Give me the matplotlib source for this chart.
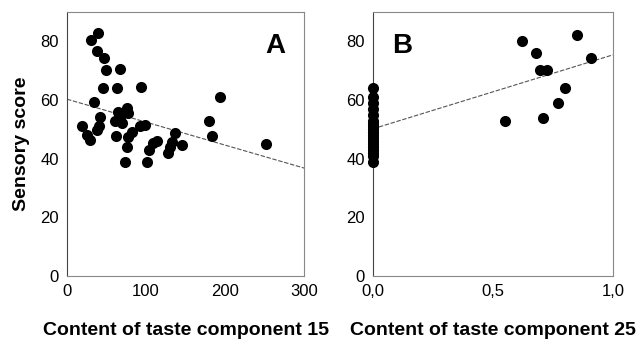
import numpy as np
import matplotlib
matplotlib.use('Agg')
import matplotlib.pyplot as plt

plt.rcParams['font.family'] = ['Liberation Sans', 'DejaVu Sans']

#----------- PANEL A: taste component 15 -----------#
comp15 = [31, 39.6, 38, 47, 49, 67, 46, 63, 93, 193, 34.6, 41.8, 18.6, 25, 29,
          37.6, 41, 65, 75.6, 60.8, 69, 77.6, 67, 62, 77.6, 82, 92.4, 98.7,
          75.6, 74, 101.7, 104, 109, 114, 128, 130, 132.5, 136.7, 145, 180,
          184, 252]
score15 = [80.5, 82.8, 76.6, 74.3, 70.3, 70.5, 64, 64, 64.3, 61.2, 59.3, 54.2,
           51.2, 48, 46.4, 49.8, 51, 56, 57.2, 52.7, 52.1, 55.5, 53.8, 47.8,
           47.5, 49.2, 51, 51.5, 44.1, 38.8, 38.8, 43, 45.3, 46.2, 41.9, 44.1,
           45.8, 48.7, 44.7, 52.7, 47.8, 45]
fitA = [60.3, 36.8]   # y at x=0 and x=300

#----------- PANEL B: taste component 25 -----------#
comp25 = [0.62, 0.68, 0.85, 0.91, 0.696, 0.724, 0.80, 0.77, 0.71, 0.55]
score25 = [80.2, 76.2, 82.1, 74.3, 70.3, 70.1, 64, 58.9, 54, 53]
zero_scores = [64, 61, 59, 57, 55, 53, 52, 51, 50, 49, 48, 47, 46, 45, 44,
               43, 42, 41, 39]
fitB = [50.2, 75.4]   # y at x=0 and x=1

fig = plt.figure(figsize=(6.41, 3.45), dpi=100)
axA = fig.add_axes([0.1045, 0.2, 0.370, 0.765])
axB = fig.add_axes([0.582, 0.2, 0.374, 0.765])

def style(ax):
    for s in ax.spines.values():
        s.set_color('#888888')
        s.set_linewidth(0.8)
    ax.spines['left'].set_color('#444444')
    ax.tick_params(length=0, labelsize=12, pad=6)
    ax.set_ylim(0, 90)
    ax.set_yticks([0, 20, 40, 60, 80])

mk = dict(s=64, color='black', zorder=3, linewidths=0, clip_on=False)

axA.scatter(comp15, score15, **mk)
axA.plot([0, 300], fitA, color='#555555', lw=0.8, ls=(0, (4, 1.5)))
axA.set_xlim(0, 300)
axA.set_xticks([0, 100, 200, 300])
style(axA)
axA.text(0.88, 0.87, 'A', transform=axA.transAxes, fontsize=20,
         fontweight='bold', ha='center', va='center')
axA.set_ylabel('Sensory score', fontsize=14, fontweight='bold', labelpad=7)
axA.set_xlabel('Content of taste component 15', fontsize=14,
               fontweight='bold', labelpad=16)

axB.scatter(comp25 + [0.0] * len(zero_scores), score25 + zero_scores, **mk)
axB.plot([0, 1], fitB, color='#555555', lw=0.8, ls=(0, (4, 1.5)))
axB.set_xlim(0, 1)
axB.set_xticks([0, 0.5, 1.0])
axB.set_xticklabels(['0,0', '0,5', '1,0'])
style(axB)
axB.text(0.12, 0.87, 'B', transform=axB.transAxes, fontsize=20,
         fontweight='bold', ha='center', va='center')
axB.set_xlabel('Content of taste component 25', fontsize=14,
               fontweight='bold', labelpad=16)

fig.savefig('out.png', dpi=100)
